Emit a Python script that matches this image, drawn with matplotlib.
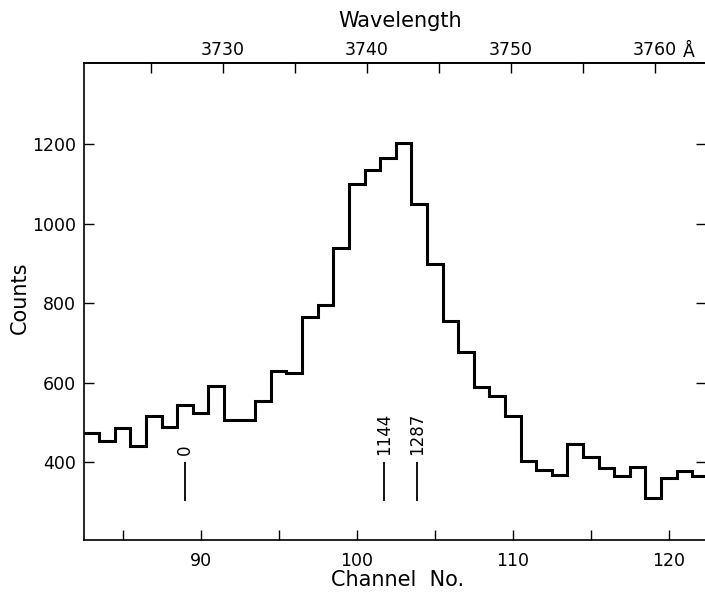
import numpy as np
import matplotlib
matplotlib.use("Agg")
import matplotlib.pyplot as plt

# ---- data ----
channels = list(range(83, 123))
counts = [474, 453, 486, 440, 516, 488, 545, 524, 591, 505, 505, 553, 630, 624,
          765, 795, 939, 1100, 1135, 1166, 1203, 1049, 898, 756, 676, 589, 566, 516,
          404, 379, 368, 446, 413, 386, 365, 389, 309, 360, 377, 365]
marker_channels = [89.0, 101.75, 103.85]
marker_labels = ["0", "1144", "1287"]
bottom_ticks = [85, 90, 95, 100, 105, 110, 115, 120]
bottom_labels = ["", "90", "", "100", "", "110", "", "120"]
y_ticks = [400, 600, 800, 1000, 1200]
wl_major = [3730, 3740, 3750, 3760]
wl_minor = [3725, 3735, 3745, 3755]
# wavelength calibration: lambda = 3730 + (ch - 91.41) * 1.0826
wl_ref_channel = 91.41
wl_ref = 3730.0
wl_per_channel = 1.0826

plt.rcParams['font.family'] = ['DejaVu Sans']

W, H = 705, 593
fig = plt.figure(figsize=(W / 100, H / 100), dpi=100)
left, right, top, bottom = 84, 706, 63.3, 540
ax = fig.add_axes([left / W, 1 - bottom / H, (right - left) / W, (bottom - top) / H])

edges = np.concatenate([np.array(channels) - 0.5, [channels[-1] + 0.5]])
ax.stairs(counts, edges, color='black', linewidth=2.2, baseline=None)

ax.set_xlim(82.52, 122.39)
ax.set_ylim(204, 1404)

for c, lab in zip(marker_channels, marker_labels):
    ax.vlines(c, 303, 400, color='black', linewidth=1.3)
    ax.text(c, 418, lab, rotation=90, ha='center', va='bottom', fontsize=12)

ax.set_xticks(bottom_ticks)
ax.set_xticklabels(bottom_labels, fontsize=12.5)
ax.set_yticks(y_ticks)
ax.set_yticklabels([str(v) for v in y_ticks], fontsize=12.5)
ax.tick_params(axis='x', direction='in', length=7, width=1.0, pad=9, top=False)
ax.tick_params(axis='y', direction='in', length=7, width=1.0, pad=6, right=True)

for s in ax.spines.values():
    s.set_linewidth(1.2)

def ch2wl(ch):
    return wl_ref + (np.asarray(ch) - wl_ref_channel) * wl_per_channel

def wl2ch(wl):
    return wl_ref_channel + (np.asarray(wl) - wl_ref) / wl_per_channel

sec = ax.secondary_xaxis('top', functions=(ch2wl, wl2ch))
sec.set_xticks(wl_major)
sec.set_xticklabels([str(v) for v in wl_major], fontsize=12.5)
sec.set_xticks(wl_minor, minor=True)
sec.tick_params(axis='x', which='both', direction='in', length=7, width=1.0, pad=3)
sec.spines['top'].set_linewidth(1.2)

fig.text(689 / W, 1 - 52 / H, "Å", fontsize=12.5, ha='center', va='center')

fig.text(400 / W, 1 - 21 / H, "Wavelength", fontsize=15, ha='center', va='center')
fig.text(398 / W, 1 - 580 / H, "Channel  No.", fontsize=15, ha='center', va='center')
fig.text(20 / W, 1 - 298 / H, "Counts", fontsize=15, ha='center', va='center', rotation=90)

fig.savefig("out.png", dpi=100)
